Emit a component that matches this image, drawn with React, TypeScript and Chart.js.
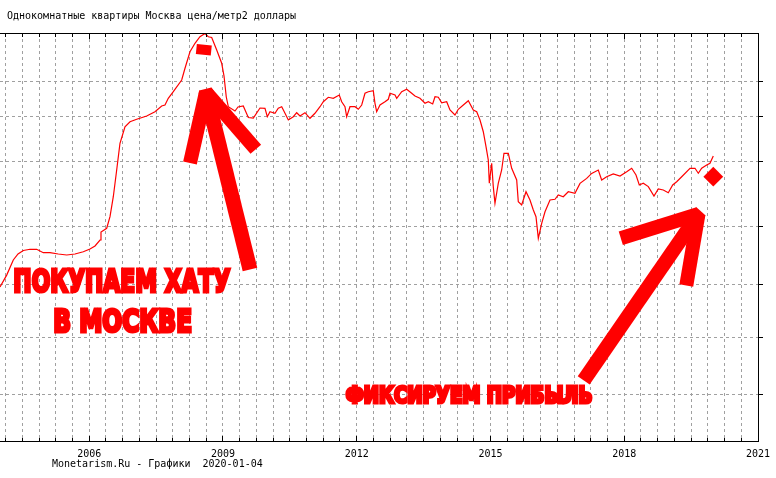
import React, { useEffect, useRef } from 'react';
import { Chart, registerables } from 'chart.js';

Chart.register(...registerables);

// ---------- texts ----------
const TITLE = 'Однокомнатные квартиры Москва цена/метр2 доллары';
const FOOTER = 'Monetarism.Ru - Графики  2020-01-04';
const TEXT_BUY_1 = 'ПОКУПАЕМ ХАТУ';
const TEXT_BUY_2 = 'В МОСКВЕ';
const TEXT_SELL = 'ФИКСИРУЕМ ПРИБЫЛЬ';

// ---------- axes ----------
const X_MIN = 2004;
const X_MAX = 2021;
const YEAR_LABELS = [2006, 2009, 2012, 2015, 2018, 2021];
const X_GRID_FIRST = 2004.125;
const X_GRID_STEP = 0.375;
const X_GRID_COUNT = 46;
const Y_MIN = -846;
const Y_MAX = 6498;
const Y_GRID = [5630, 4990, 4180, 3010, 1980, 1010, 0];

// ---------- series (decimal year, USD per m2) ----------
const dates = [
  2004.000, 2004.150, 2004.298, 2004.404, 2004.523, 2004.673, 2004.823, 2004.971, 2005.121, 2005.307,
  2005.496, 2005.682, 2005.868, 2006.018, 2006.131, 2006.243, 2006.265, 2006.393, 2006.467, 2006.541,
  2006.617, 2006.691, 2006.803, 2006.916, 2007.066, 2007.290, 2007.476, 2007.626, 2007.700, 2007.774,
  2007.887, 2008.075, 2008.149, 2008.261, 2008.373, 2008.485, 2008.598, 2008.672, 2008.748, 2008.860,
  2008.972, 2009.024, 2009.075, 2009.120, 2009.270, 2009.338, 2009.456, 2009.569, 2009.681, 2009.831,
  2009.943, 2009.995, 2010.055, 2010.167, 2010.241, 2010.318, 2010.392, 2010.466, 2010.578, 2010.654,
  2010.728, 2010.840, 2010.952, 2011.064, 2011.177, 2011.251, 2011.363, 2011.475, 2011.609, 2011.663,
  2011.737, 2011.775, 2011.849, 2011.962, 2012.036, 2012.112, 2012.186, 2012.260, 2012.372, 2012.410,
  2012.448, 2012.522, 2012.634, 2012.709, 2012.747, 2012.859, 2012.897, 2013.009, 2013.121, 2013.233,
  2013.307, 2013.419, 2013.532, 2013.606, 2013.704, 2013.756, 2013.830, 2013.906, 2014.018, 2014.092,
  2014.204, 2014.278, 2014.391, 2014.503, 2014.615, 2014.691, 2014.765, 2014.839, 2014.900, 2014.951,
  2014.974, 2015.027, 2015.063, 2015.101, 2015.175, 2015.251, 2015.303, 2015.400, 2015.476, 2015.588,
  2015.624, 2015.700, 2015.797, 2015.886, 2015.961, 2016.021, 2016.073, 2016.149, 2016.223, 2016.335,
  2016.447, 2016.521, 2016.633, 2016.745, 2016.895, 2017.008, 2017.158, 2017.270, 2017.418, 2017.494,
  2017.606, 2017.754, 2017.905, 2018.055, 2018.167, 2018.264, 2018.338, 2018.427, 2018.540, 2018.667,
  2018.764, 2018.876, 2018.988, 2019.087, 2019.176, 2019.289, 2019.475, 2019.587, 2019.661, 2019.737,
  2019.849, 2019.923, 2019.997,
];

const prices = [
  1926, 2140, 2412, 2520, 2583, 2605, 2605, 2543, 2543, 2520,
  2502, 2520, 2561, 2610, 2664, 2772, 2916, 2983, 3191, 3551,
  4032, 4513, 4811, 4901, 4945, 5004, 5081, 5184, 5202, 5323,
  5441, 5652, 5863, 6161, 6313, 6431, 6489, 6431, 6417, 6192,
  5953, 5724, 5346, 5171, 5094, 5166, 5184, 4977, 4968, 5148,
  5143, 4991, 5081, 5053, 5143, 5171, 5053, 4932, 4991, 5063,
  5004, 5063, 4963, 5053, 5171, 5261, 5341, 5323, 5382, 5261,
  5171, 4991, 5171, 5171, 5125, 5202, 5413, 5441, 5459, 5233,
  5081, 5202, 5261, 5305, 5413, 5382, 5323, 5441, 5485, 5413,
  5364, 5323, 5233, 5261, 5220, 5351, 5341, 5243, 5261, 5112,
  5022, 5125, 5202, 5279, 5112, 5081, 4932, 4721, 4451, 4212,
  3793, 4153, 3733, 3433, 3793, 4032, 4333, 4333, 4063, 3852,
  3461, 3402, 3641, 3492, 3312, 3191, 2803, 3073, 3281, 3492,
  3505, 3582, 3551, 3641, 3611, 3791, 3881, 3971, 4032, 3852,
  3911, 3960, 3924, 4001, 4063, 3942, 3762, 3793, 3733, 3564,
  3690, 3672, 3623, 3762, 3821, 3911, 4063, 4063, 3973, 4063,
  4122, 4153, 4284,
];

// ---------- annotation anchors (data space: [year, value]) ----------
const ARROW_BUY_TIP = [2008.620, 5436];
const ARROW_BUY_ENDS = [[2009.607, 2241], [2008.261, 4158], [2009.737, 4406]];
const ARROW_SELL_TIP = [2019.665, 3240];
const ARROW_SELL_ENDS = [[2017.091, 247], [2017.923, 2803], [2019.392, 1953]];
const MARK_PEAK = [2008.571, 6196];
const MARK_END = [2019.997, 3911];
const TEXT_BUY_1_POS = [2004.298, 2009.196, 1813];
const TEXT_BUY_2_POS = [2005.195, 2008.313, 1093];
const TEXT_SELL_POS = [2011.737, 2017.306, -198];

const RED = '#ff0000';
const GRID = '#a0a0a0';
const MONO = '10px "DejaVu Sans Mono", monospace';
const HEAVY = '"Liberation Sans Narrow", "DejaVu Sans Condensed", "Liberation Sans", sans-serif';

function xGridValues(): number[] {
  const out: number[] = [];
  for (let i = 0; i < X_GRID_COUNT; i++) out.push(+(X_GRID_FIRST + i * X_GRID_STEP).toFixed(3));
  return out;
}

function drawArrow(ctx: CanvasRenderingContext2D, P: number[], ends: number[][], widths: number[]) {
  ctx.fillStyle = RED;
  const corners: number[][] = [];
  ends.forEach((E, i) => {
    const dx = E[0] - P[0];
    const dy = E[1] - P[1];
    const L = Math.hypot(dx, dy);
    const nx = (-dy / L) * widths[i] / 2;
    const ny = (dx / L) * widths[i] / 2;
    ctx.beginPath();
    ctx.moveTo(P[0] + nx, P[1] + ny);
    ctx.lineTo(E[0] + nx, E[1] + ny);
    ctx.lineTo(E[0] - nx, E[1] - ny);
    ctx.lineTo(P[0] - nx, P[1] - ny);
    ctx.closePath();
    ctx.fill();
    corners.push([P[0] + nx, P[1] + ny], [P[0] - nx, P[1] - ny]);
  });
  corners.sort((a, b) => Math.atan2(a[1] - P[1], a[0] - P[0]) - Math.atan2(b[1] - P[1], b[0] - P[0]));
  ctx.beginPath();
  corners.forEach((c, i) => (i ? ctx.lineTo(c[0], c[1]) : ctx.moveTo(c[0], c[1])));
  ctx.closePath();
  ctx.fill();
}

function drawFitted(ctx: CanvasRenderingContext2D, text: string, x0: number, x1: number, base: number, cap: number) {
  const sw = 3.2;
  const ref = 100;
  ctx.font = `bold ${ref}px ${HEAVY}`;
  const capRef = ctx.measureText('Н').actualBoundingBoxAscent || 72;
  const size = ((cap - sw) * ref) / capRef;
  ctx.font = `bold ${size}px ${HEAVY}`;
  const m = ctx.measureText(text);
  const inkW = m.actualBoundingBoxLeft + m.actualBoundingBoxRight;
  const sx = (x1 - x0 - sw) / inkW;
  ctx.save();
  ctx.translate(x0 + sw / 2 + m.actualBoundingBoxLeft * sx, base - sw / 2);
  ctx.scale(sx, 1);
  ctx.textAlign = 'left';
  ctx.textBaseline = 'alphabetic';
  ctx.fillStyle = RED;
  ctx.strokeStyle = RED;
  ctx.lineWidth = sw;
  ctx.lineJoin = 'miter';
  ctx.fillText(text, 0, 0);
  ctx.strokeText(text, 0, 0);
  ctx.restore();
}

const decorPlugin = {
  id: 'decor',
  afterDatasetsDraw(chart: any) {
    const { ctx, scales } = chart;
    const xs = scales.x;
    const ys = scales.y;
    const pt = (p: number[]) => [xs.getPixelForValue(p[0]), ys.getPixelForValue(p[1])];
    ctx.save();
    drawArrow(ctx, pt(ARROW_BUY_TIP), ARROW_BUY_ENDS.map(pt), [15, 14, 14]);
    drawArrow(ctx, pt(ARROW_SELL_TIP), ARROW_SELL_ENDS.map(pt), [14.5, 14, 14]);
    const pk = pt(MARK_PEAK);
    ctx.save();
    ctx.translate(pk[0], pk[1]);
    ctx.rotate((6 * Math.PI) / 180);
    ctx.fillStyle = RED;
    ctx.fillRect(-7.5, -5, 15, 10);
    ctx.restore();
    const em = pt(MARK_END);
    ctx.save();
    ctx.translate(em[0], em[1]);
    ctx.rotate(Math.PI / 4);
    ctx.fillStyle = RED;
    ctx.fillRect(-7, -7, 14, 14);
    ctx.restore();
    const tx = (p: number[], cap: number, t: string) =>
      drawFitted(ctx, t, xs.getPixelForValue(p[0]), xs.getPixelForValue(p[1]), ys.getPixelForValue(p[2]), cap);
    tx(TEXT_BUY_1_POS, 26.6, TEXT_BUY_1);
    tx(TEXT_BUY_2_POS, 26.6, TEXT_BUY_2);
    tx(TEXT_SELL_POS, 20, TEXT_SELL);
    ctx.restore();
  },
  afterDraw(chart: any) {
    const { ctx, chartArea: a, scales } = chart;
    const xs = scales.x;
    const ys = scales.y;
    const top = Math.round(a.top);
    const bottom = Math.round(a.bottom);
    const right = Math.round(a.right);
    const left = Math.round(a.left);
    ctx.save();
    ctx.fillStyle = '#000';
    ctx.fillRect(left, top, right - left + 1, 1);
    ctx.fillRect(left, bottom, right - left + 1, 1);
    ctx.fillRect(right, top, 1, bottom - top + 1);
    xGridValues().forEach((v) => {
      const px = Math.round(xs.getPixelForValue(v) - 0.5);
      const major = YEAR_LABELS.some((yv) => Math.abs(yv - v) < 1e-6);
      const len = major ? 6 : 4;
      ctx.fillRect(px, top, 1, len);
      ctx.fillRect(px, bottom - len + 1, 1, len);
    });
    Y_GRID.forEach((v) => {
      const py = Math.round(ys.getPixelForValue(v) - 0.5);
      ctx.fillRect(right, py, 5, 1);
    });
    ctx.font = MONO;
    ctx.textBaseline = 'alphabetic';
    ctx.textAlign = 'center';
    YEAR_LABELS.forEach((yv) => {
      ctx.fillText(String(yv), xs.getPixelForValue(yv), bottom + 16);
    });
    ctx.textAlign = 'left';
    ctx.fillText(TITLE, 7, 19);
    ctx.fillText(FOOTER, 52, 467);
    ctx.restore();
  },
};

export default function App() {
  const ref = useRef<HTMLCanvasElement | null>(null);
  useEffect(() => {
    if (!ref.current) return;
    const chart = new Chart(ref.current, {
      type: 'line',
      data: {
        datasets: [
          {
            data: dates.map((d, i) => ({ x: d, y: prices[i] })),
            borderColor: RED,
            borderWidth: 1.2,
            pointRadius: 0,
            tension: 0,
            fill: false,
          },
        ],
      },
      options: {
        animation: false,
        responsive: false,
        devicePixelRatio: 1,
        layout: { padding: { left: 0, right: 18, top: 33, bottom: 37 } },
        plugins: { legend: { display: false }, tooltip: { enabled: false }, title: { display: false } },
        scales: {
          x: {
            type: 'linear',
            min: X_MIN,
            max: X_MAX,
            afterBuildTicks: (s: any) => {
              s.ticks = xGridValues().map((v) => ({ value: v }));
            },
            ticks: { display: false },
            grid: { color: GRID, lineWidth: 1, drawTicks: false },
            border: { display: false, dash: [3, 3] },
          },
          y: {
            type: 'linear',
            min: Y_MIN,
            max: Y_MAX,
            afterBuildTicks: (s: any) => {
              s.ticks = Y_GRID.map((v) => ({ value: v }));
            },
            ticks: { display: false },
            grid: { color: GRID, lineWidth: 1, drawTicks: false },
            border: { display: false, dash: [3, 3] },
          },
        },
      },
      plugins: [decorPlugin],
    } as any);
    return () => chart.destroy();
  }, []);
  return (
    <div style={{ position: 'fixed', left: 0, top: 0, width: 776, height: 478, background: '#fff' }}>
      <canvas ref={ref} width={776} height={478} style={{ width: 776, height: 478, display: 'block' }} />
    </div>
  );
}
